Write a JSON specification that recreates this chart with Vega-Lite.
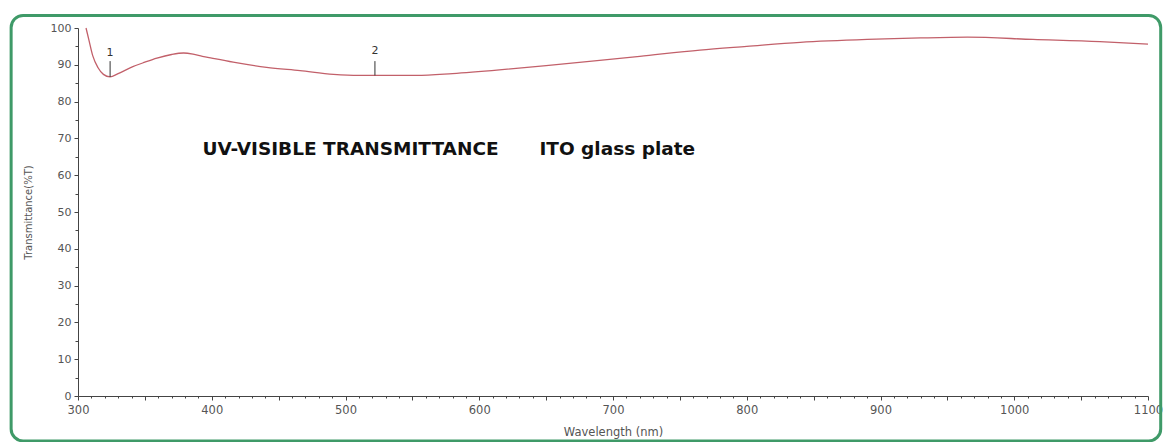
{
  "$schema": "https://vega.github.io/schema/vega-lite/v6.json",
  "autosize": "none",
  "width": 1070,
  "height": 368,
  "padding": {"left": 78, "top": 28, "right": 16, "bottom": 46},
  "background": "white",
  "config": {
    "view": {"stroke": null},
    "axis": {
      "domainColor": "#444",
      "tickColor": "#444",
      "labelColor": "#555",
      "labelFont": "DejaVu Sans",
      "labelFontSize": 11,
      "labelOverlap": false,
      "titleFont": "DejaVu Sans",
      "titleFontSize": 10,
      "titleFontWeight": "normal",
      "titleColor": "#555",
      "grid": false
    },
    "axisX": {
      "titleY": 36,
      "titleBaseline": "middle",
      "titleFontSize": 11.5,
      "labelPadding": 4,
      "labelFontSize": 11.5,
      "labelFlush": false
    },
    "axisY": {
      "labelPadding": 3
    }
  },
  "datasets": {
    "spectrum": [
      {"wavelength": 306, "transmittance": 100.0},
      {"wavelength": 308, "transmittance": 97.0},
      {"wavelength": 311, "transmittance": 92.5},
      {"wavelength": 315, "transmittance": 89.2},
      {"wavelength": 319, "transmittance": 87.4},
      {"wavelength": 324, "transmittance": 86.7},
      {"wavelength": 330, "transmittance": 87.6},
      {"wavelength": 341, "transmittance": 89.5},
      {"wavelength": 350, "transmittance": 90.7},
      {"wavelength": 359, "transmittance": 91.8},
      {"wavelength": 370, "transmittance": 92.8},
      {"wavelength": 379, "transmittance": 93.2},
      {"wavelength": 386, "transmittance": 92.9},
      {"wavelength": 393, "transmittance": 92.3},
      {"wavelength": 400, "transmittance": 91.8},
      {"wavelength": 416, "transmittance": 90.7},
      {"wavelength": 441, "transmittance": 89.3},
      {"wavelength": 466, "transmittance": 88.4},
      {"wavelength": 491, "transmittance": 87.4},
      {"wavelength": 510, "transmittance": 87.1},
      {"wavelength": 522, "transmittance": 87.1},
      {"wavelength": 553, "transmittance": 87.1},
      {"wavelength": 580, "transmittance": 87.6},
      {"wavelength": 615, "transmittance": 88.6},
      {"wavelength": 650, "transmittance": 89.8},
      {"wavelength": 690, "transmittance": 91.2},
      {"wavelength": 720, "transmittance": 92.3},
      {"wavelength": 765, "transmittance": 94.0},
      {"wavelength": 800, "transmittance": 95.0},
      {"wavelength": 840, "transmittance": 96.1},
      {"wavelength": 890, "transmittance": 96.9},
      {"wavelength": 930, "transmittance": 97.3},
      {"wavelength": 965, "transmittance": 97.5},
      {"wavelength": 1014, "transmittance": 96.9},
      {"wavelength": 1064, "transmittance": 96.3},
      {"wavelength": 1100, "transmittance": 95.6}
    ],
    "peaks": [
      {"wavelength": 324, "transmittance": 86.7, "peak": "1"},
      {"wavelength": 522, "transmittance": 87.1, "peak": "2"}
    ],
    "captions": [
      {"wavelength": 393, "transmittance": 67.2, "caption": "UV-VISIBLE TRANSMITTANCE"},
      {"wavelength": 645, "transmittance": 67.2, "caption": "ITO glass plate"}
    ]
  },
  "encoding": {
    "x": {
      "field": "wavelength",
      "type": "quantitative",
      "scale": {"domain": [300, 1100], "nice": false, "zero": false},
      "axis": {
        "title": "Wavelength (nm)",
        "values": [300,310,320,330,340,350,360,370,380,390,400,410,420,430,440,450,460,470,480,490,500,510,520,530,540,550,560,570,580,590,600,610,620,630,640,650,660,670,680,690,700,710,720,730,740,750,760,770,780,790,800,810,820,830,840,850,860,870,880,890,900,910,920,930,940,950,960,970,980,990,1000,1010,1020,1030,1040,1050,1060,1070,1080,1090,1100],
        "format": "d",
        "labelExpr": "datum.value % 100 === 0 ? datum.label : ''",
        "labelOverlap": false,
        "tickSize": {"condition": {"test": "datum.value % 50 === 0", "value": 4}, "value": 2}
      }
    },
    "y": {
      "field": "transmittance",
      "type": "quantitative",
      "scale": {"domain": [0, 100], "nice": false},
      "axis": {
        "title": "Transmittance(%T)",
        "titleX": -45,
        "values": [0,5,10,15,20,25,30,35,40,45,50,55,60,65,70,75,80,85,90,95,100],
        "labelExpr": "datum.value % 10 === 0 ? datum.label : ''",
        "labelOverlap": false,
        "tickSize": {"condition": {"test": "datum.value % 10 === 0", "value": 4}, "value": 3}
      }
    }
  },
  "layer": [
    {
      "data": {"name": "spectrum"},
      "mark": {"type": "line", "color": "#c2606a", "strokeWidth": 1.3, "interpolate": "monotone"}
    },
    {
      "data": {"name": "peaks"},
      "mark": {"type": "rule", "color": "#333", "strokeWidth": 1},
      "encoding": {
        "y2": {"datum": 91}
      }
    },
    {
      "data": {"name": "peaks"},
      "mark": {"type": "text", "fontSize": 11, "font": "DejaVu Sans", "color": "#333", "baseline": "middle", "dy": -24},
      "encoding": {
        "text": {"field": "peak"}
      }
    },
    {
      "data": {"name": "captions"},
      "mark": {"type": "text", "font": "DejaVu Sans", "fontWeight": "bold", "fontSize": 18.5, "color": "#111", "align": "left", "baseline": "middle"},
      "encoding": {
        "text": {"field": "caption"}
      }
    },
    {
      "data": {"values": [{"wavelength": 250, "transmittance": 103.4}]},
      "mark": {"type": "rect", "fill": null, "stroke": "#3f9a68", "strokeWidth": 3, "cornerRadius": 12, "clip": false},
      "encoding": {
        "x2": {"datum": 1109.5},
        "y2": {"datum": -12.2}
      }
    }
  ]
}
